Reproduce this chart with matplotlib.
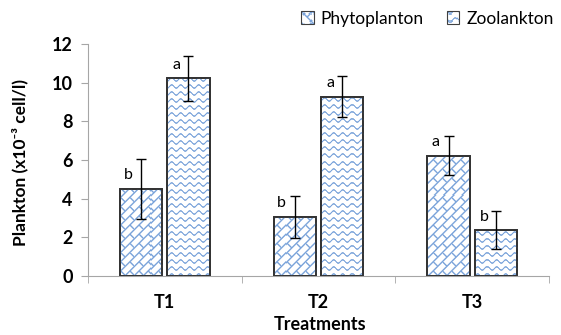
import numpy as np
import matplotlib
matplotlib.use('Agg')
import matplotlib.pyplot as plt
from matplotlib.legend_handler import HandlerBase
from matplotlib.image import BboxImage
from matplotlib.transforms import Bbox, TransformedBbox
from matplotlib.patches import Rectangle

plt.rcParams['font.family'] = ['Lato', 'DejaVu Sans']

# donnees
treatments = ['T1', 'T2', 'T3']
phyto = [4.5, 3.05, 6.22]
phyto_err = [1.55, 1.08, 1.02]
zoo = [10.22, 9.27, 2.36]
zoo_err = [1.15, 1.07, 0.98]
phyto_letters = ['b', 'b', 'a']
zoo_letters = ['a', 'a', 'b']

blue = np.array([0.42, 0.60, 0.84])


def make_texture(kind, w, h):
    yy, xx = np.mgrid[0:h, 0:w].astype(float)
    if kind == 'wave':
        s, p, a = 7.0, 9.0, 1.6
        yw = yy - a * np.sin(2 * np.pi * xx / p)
        m = np.mod(yw, s)
        d = np.minimum(m, s - m)
        inten = np.clip(1.3 - d, 0, 1)
    else:
        s, L = 6.5, 13.0
        u = (xx + yy) / np.sqrt(2)
        v = (yy - xx) / np.sqrt(2)
        r = np.floor(v / s)
        mv = np.mod(v, s)
        dv = np.minimum(mv, s - mv)
        uu = np.mod(u + np.mod(r, 2) * L / 2, L)
        du = np.minimum(uu, L - uu)
        inten = np.maximum(np.clip(1.2 - dv, 0, 1), np.clip(1.2 - du, 0, 1))
    img = np.zeros((h, w, 4))
    img[..., :3] = blue
    img[..., 3] = inten * 0.9
    return img


class TextureHandler(HandlerBase):
    def __init__(self, tex):
        super().__init__()
        self.tex = tex

    def create_artists(self, legend, orig_handle, xdescent, ydescent,
                       width, height, fontsize, trans):
        s = height
        x0 = -xdescent + (width - s) / 2
        y0 = -ydescent
        bb = TransformedBbox(Bbox.from_bounds(x0, y0, s, s), trans)
        im = BboxImage(bb, data=self.tex[:11, :11], interpolation='nearest')
        rect = Rectangle((x0, y0), s, s, facecolor='none',
                         edgecolor='#404040', linewidth=0.8, transform=trans)
        return [im, rect]


fig = plt.figure(figsize=(5.61, 3.35), dpi=100)
ax = fig.add_axes([88 / 561, 59 / 335, 461 / 561, 232 / 335])

x = np.arange(len(treatments))
width = 0.275
off = 0.154

W, H = 461, 232
tex_brick = make_texture('brick', W, H)
tex_wave = make_texture('wave', W, H)

bars_p = ax.bar(x - off, phyto, width, facecolor='white', edgecolor='#333333',
                linewidth=1.3, zorder=2)
bars_z = ax.bar(x + off, zoo, width, facecolor='white', edgecolor='#333333',
                linewidth=1.3, zorder=2)

for bars, tex in [(bars_p, tex_brick), (bars_z, tex_wave)]:
    for b in bars:
        im = ax.imshow(tex, extent=(-0.5, 2.5, 0, 12), aspect='auto',
                       origin='lower', interpolation='nearest', zorder=2.5)
        im.set_clip_path(b)
        # contour par-dessus la texture
        ax.add_patch(Rectangle(b.get_xy(), b.get_width(), b.get_height(),
                               facecolor='none', edgecolor='#333333',
                               linewidth=1.3, zorder=2.6))

ax.set_xlim(-0.5, 2.5)
ax.set_ylim(0, 12)

ax.errorbar(x - off, phyto, yerr=phyto_err, fmt='none', ecolor='black',
            elinewidth=1, capsize=3.5, capthick=1, zorder=3)
ax.errorbar(x + off, zoo, yerr=zoo_err, fmt='none', ecolor='black',
            elinewidth=1, capsize=3.5, capthick=1, zorder=3)

for xi, v, lab in zip(x - off, phyto, phyto_letters):
    ax.text(xi - 0.085, v + 0.35, lab, ha='center', va='bottom', fontsize=11.5)
for xi, v, lab in zip(x + off, zoo, zoo_letters):
    ax.text(xi - 0.075, v + 0.35, lab, ha='center', va='bottom', fontsize=11.5)

ax.spines['top'].set_visible(False)
ax.spines['right'].set_visible(False)
ax.spines['left'].set_color('#a6a6a6')
ax.spines['bottom'].set_color('#a6a6a6')

ax.set_yticks(np.arange(0, 13, 2))
ax.set_yticklabels([str(v) for v in range(0, 13, 2)], fontweight='bold', fontsize=13)
ax.tick_params(axis='y', length=5, color='#a6a6a6', pad=6)
ax.set_xticks(x)
ax.set_xticklabels(treatments, fontweight='bold', fontsize=13)
ax.set_xticks([-0.5, 0.5, 1.5, 2.5], minor=True)
ax.tick_params(axis='x', which='major', length=0, pad=13)
ax.tick_params(axis='x', which='minor', length=5, color='#a6a6a6')

ax.set_ylabel('Plankton (x10⁻³ cell/l)', fontweight='bold', fontsize=12.5)
ax.yaxis.set_label_coords(-0.13, 0.49)
ax.set_xlabel('Treatments', fontweight='bold', fontsize=13)
ax.xaxis.set_label_coords(0.503, -0.172)

h1 = Rectangle((0, 0), 1, 1)
h2 = Rectangle((0, 0), 1, 1)
fig.legend([h1, h2], ['Phytoplanton', 'Zoolankton'], ncol=2, frameon=False,
           loc='upper right', bbox_to_anchor=(1.015, 1.015), fontsize=12.5,
           handlelength=0.75, handleheight=0.75, handletextpad=0.4, columnspacing=1.3,
           handler_map={h1: TextureHandler(tex_brick), h2: TextureHandler(tex_wave)})

fig.savefig('out.png', dpi=100)
